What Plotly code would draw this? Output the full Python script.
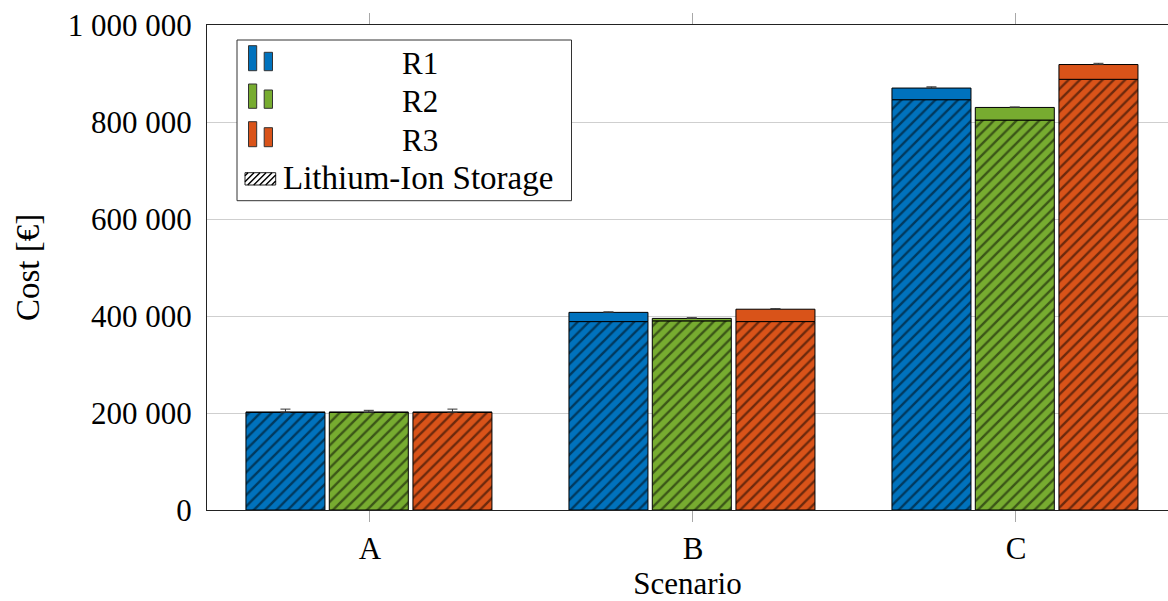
import plotly.graph_objects as go

# ---- data -------------------------------------------------------------
scenarios = ["A", "B", "C"]
series = ["R1", "R2", "R3"]

storage_r1 = [201500, 388500, 846000]
storage_r2 = [201500, 390000, 804000]
storage_r3 = [201500, 388500, 888000]

total_r1 = [201500, 407500, 870000]
total_r2 = [201500, 395000, 830000]
total_r3 = [201500, 414000, 918500]

err_r1 = [6500, 1000, 2500]
err_r2 = [4000, 1500, 1000]
err_r3 = [6500, 1000, 2500]

y_ticks = [0, 200000, 400000, 600000, 800000, 1000000]
y_tick_text = ["0", "200 000", "400 000", "600 000", "800 000", "1 000 000"]

# ---- style ------------------------------------------------------------
colors = ["#0072BD", "#77AC30", "#D95319"]
bar_width = 0.2446
bar_offsets = [-0.384, -0.126, 0.133]
FONT = "Liberation Serif"
FS = 31

# plot area geometry (pixels)
W, H = 1168, 601
L, R, T, B = 207, 1168, 25, 510
PW, PH = R - L, B - T


def px(x):
    return (x - L) / PW


def py(y):
    return (B - y) / PH


storage = [storage_r1, storage_r2, storage_r3]
totals = [total_r1, total_r2, total_r3]
errors = [err_r1, err_r2, err_r3]

fig = go.Figure()

for name, col, off, st, tot, er in zip(series, colors, bar_offsets, storage, totals, errors):
    # hatched lower segment: lithium-ion storage cost
    fig.add_trace(go.Bar(
        x=scenarios, y=st, width=[bar_width] * 3, offset=[off] * 3,
        name=name + " storage", showlegend=False,
        marker=dict(
            color=col, line=dict(color="black", width=1),
            pattern=dict(shape="/", fgcolor="black", bgcolor=col,
                         fillmode="overlay", size=8, solidity=0.3),
        ),
    ))
    # solid upper segment: remaining cost, with error bar on the total
    fig.add_trace(go.Bar(
        x=scenarios, y=[t - s for t, s in zip(tot, st)], base=st,
        width=[bar_width] * 3, offset=[off] * 3,
        name=name, showlegend=False,
        marker=dict(color=col, line=dict(color="black", width=1)),
        error_y=dict(type="data", array=er, arrayminus=[0] * 3,
                     color="#333333", thickness=1, width=5),
    ))

# ---- hand-drawn legend --------------------------------------------------
shapes = []
annotations = []

shapes.append(dict(type="rect", xref="paper", yref="paper",
                   x0=px(237), x1=px(571.5), y0=py(200.7), y1=py(40),
                   line=dict(color="#333333", width=1), fillcolor="white",
                   layer="above"))

icon_rows = [(45.7, 52.3, 70.7), (84.0, 90.0, 108.3), (121.7, 127.7, 146.7)]
label_y = [63, 101.5, 140]
for (tall_top, short_top, bottom), col, name, ly in zip(icon_rows, colors, series, label_y):
    shapes.append(dict(type="rect", xref="paper", yref="paper",
                       x0=px(248.5), x1=px(256.7), y0=py(bottom), y1=py(tall_top),
                       line=dict(color="#333333", width=1), fillcolor=col, layer="above"))
    shapes.append(dict(type="rect", xref="paper", yref="paper",
                       x0=px(264.2), x1=px(272.5), y0=py(bottom), y1=py(short_top),
                       line=dict(color="#333333", width=1), fillcolor=col, layer="above"))
    annotations.append(dict(text=name, xref="paper", yref="paper",
                            x=px(419.5), y=py(ly), xanchor="center", yanchor="middle",
                            showarrow=False, font=dict(family=FONT, size=FS, color="black")))

# hatched swatch for storage
hx0, hx1, hy0, hy1 = 245.0, 275.7, 172.7, 185.0
shapes.append(dict(type="rect", xref="paper", yref="paper",
                   x0=px(hx0), x1=px(hx1), y0=py(hy1), y1=py(hy0),
                   line=dict(color="#222222", width=1), fillcolor="white", layer="above"))
hh = hy1 - hy0
path = ""
s = hx0 - hh + 3
while s < hx1:
    xa, ya = s, hy1
    xb, yb = s + hh, hy0
    if xa < hx0:
        ya = hy1 - (hx0 - xa)
        xa = hx0
    if xb > hx1:
        yb = hy0 + (xb - hx1)
        xb = hx1
    path += f"M {px(xa):.5f},{py(ya):.5f} L {px(xb):.5f},{py(yb):.5f} "
    s += 6
shapes.append(dict(type="path", xref="paper", yref="paper", path=path,
                   line=dict(color="black", width=1.4), layer="above"))
annotations.append(dict(text="Lithium-Ion Storage", xref="paper", yref="paper",
                        x=px(281), y=py(178), xanchor="left", yanchor="middle",
                        showarrow=False, font=dict(family=FONT, size=33, color="black")))

fig.update_layout(
    width=W, height=H,
    margin=dict(l=L, r=W - R, t=T, b=H - B, pad=0),
    paper_bgcolor="white", plot_bgcolor="white",
    barmode="overlay",
    font=dict(family=FONT, size=FS, color="black"),
    shapes=shapes, annotations=annotations,
    showlegend=False,
)

fig.update_xaxes(
    type="category", range=[-0.5046, 2.4706], automargin=False,
    showline=True, linecolor="#222222", linewidth=1, mirror="ticks",
    ticks="outside", ticklen=11, tickcolor="#a8a8a8", tickwidth=1,
    showgrid=False, zeroline=False,
    tickfont=dict(family=FONT, size=FS, color="black"),
    title=dict(text="Scenario", standoff=19,
               font=dict(family=FONT, size=FS, color="black")),
)
fig.update_yaxes(
    range=[0, 1000000], tickvals=y_ticks, ticktext=y_tick_text, automargin=False,
    showline=True, linecolor="#222222", linewidth=1, mirror=False,
    ticks="", showgrid=True, gridcolor="#cfcfcf", gridwidth=1, zeroline=False,
    ticklabelstandoff=8,
    tickfont=dict(family=FONT, size=FS, color="black"),
    title=dict(text="Cost [€]", standoff=18,
               font=dict(family=FONT, size=33, color="black")),
)

fig.write_html("out.html")
